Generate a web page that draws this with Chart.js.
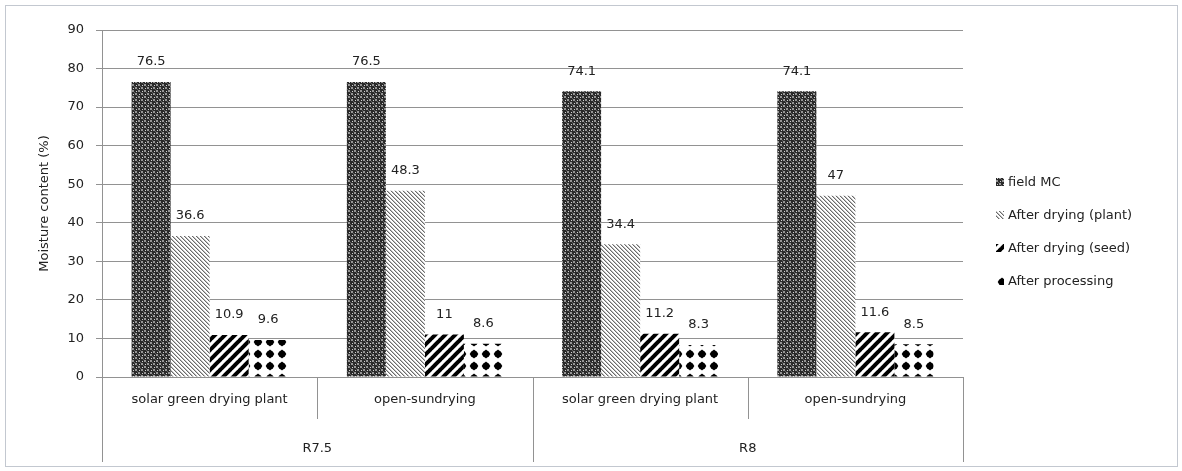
<!DOCTYPE html>
<html>
<head>
<meta charset="utf-8">
<script src="https://cdn.jsdelivr.net/npm/chart.js@4"></script>
<style>
  html, body { margin: 0; padding: 0; background: #fff; }
  #wrap { width: 1182px; height: 471px; }
</style>
</head>
<body>
<div id="wrap"><canvas id="mcChart" width="1182" height="471"></canvas></div>
<script>
// Moisture content by drying method, for two varieties
const categories = ['solar green drying plant', 'open-sundrying', 'solar green drying plant', 'open-sundrying'];
const groups = ['R7.5', 'R8'];
const seriesNames = ['field MC', 'After drying (plant)', 'After drying (seed)', 'After processing'];
const fieldMC = [76.5, 76.5, 74.1, 74.1];
const afterPlant = [36.6, 48.3, 34.4, 47];
const afterSeed = [10.9, 11, 11.2, 11.6];
const afterProcessing = [9.6, 8.6, 8.3, 8.5];
const yTicks = [0, 10, 20, 30, 40, 50, 60, 70, 80, 90];

const FONT = 'DejaVu Sans';
const TEXT = '#222222';
const GRID = '#929292';

// --- fill patterns ---
function makeTile(w, h, draw) {
    const c = document.createElement('canvas');
    c.width = w; c.height = h;
    const g = c.getContext('2d');
    draw(g, w, h);
    return document.createElement('canvas').getContext('2d').createPattern(c, 'repeat');
}

// dark woven check
const patField = makeTile(6, 6, (g) => {
    g.fillStyle = '#2a2a2a';
    g.fillRect(0, 0, 6, 6);
    g.fillStyle = '#959595';
    g.fillRect(0, 0, 2, 2);
    g.fillRect(3, 3, 2, 2);
    g.fillStyle = '#d0d0d0';
    g.fillRect(1, 4, 1, 1);
    g.fillRect(4, 1, 1, 1);
    g.fillStyle = '#606060';
    g.fillRect(2, 2, 1, 1);
    g.fillRect(5, 5, 1, 1);
});

// thin light diagonal lines (\\\)
const patPlant = makeTile(4, 4, (g) => {
    g.fillStyle = '#ffffff';
    g.fillRect(0, 0, 4, 4);
    for (let i = 0; i < 4; i++) {
        g.fillStyle = '#6a6a6a';
        g.fillRect(i, i, 1, 1);
        g.fillStyle = '#c0c0c0';
        g.fillRect((i + 1) % 4, i, 1, 1);
    }
});

// thick black diagonal stripes (///)
const patSeed = makeTile(10, 10, (g) => {
    g.fillStyle = '#ffffff';
    g.fillRect(0, 0, 10, 10);
    g.strokeStyle = '#000000';
    g.lineWidth = 4;
    for (let k = -1; k <= 1; k++) {
        g.beginPath();
        g.moveTo(k * 10 - 1, 11);
        g.lineTo(k * 10 + 11, -1);
        g.stroke();
    }
});

// black round dots with small diamond points
const patProc = makeTile(12, 12, (g) => {
    g.fillStyle = '#ffffff';
    g.fillRect(0, 0, 12, 12);
    g.fillStyle = '#000000';
    g.beginPath();
    g.arc(6, 6, 3.6, 0, Math.PI * 2);
    g.fill();
    g.beginPath();
    g.moveTo(6, 1.4);
    g.lineTo(10.4, 6);
    g.lineTo(6, 10.6);
    g.lineTo(1.6, 6);
    g.closePath();
    g.fill();
});

const patterns = [patField, patPlant, patSeed, patProc];

// value labels, hierarchical x-axis, legend and frame
const decorPlugin = {
    id: 'decor',
    beforeDraw(chart) {
        const ctx = chart.ctx;
        ctx.save();
        ctx.strokeStyle = '#c3c8d0';
        ctx.lineWidth = 1;
        ctx.strokeRect(5.5, 5.5, 1172, 461);
        ctx.restore();
    },
    afterDraw(chart) {
        const ctx = chart.ctx;
        const area = chart.chartArea;
        ctx.save();

        // bar value labels
        ctx.font = '13px "' + FONT + '"';
        ctx.fillStyle = TEXT;
        ctx.textAlign = 'center';
        ctx.textBaseline = 'middle';
        chart.data.datasets.forEach((ds, di) => {
            chart.getDatasetMeta(di).data.forEach((bar, i) => {
                ctx.fillText(String(ds.data[i]), bar.x, bar.y - 20);
            });
        });

        // category separators
        const step = (area.right - area.left) / categories.length;
        ctx.strokeStyle = GRID;
        ctx.lineWidth = 1;
        for (let i = 0; i <= categories.length; i++) {
            const px = Math.round(area.left + i * step) + 0.5;
            const outer = i % 2 === 0;
            ctx.beginPath();
            ctx.moveTo(px, area.bottom);
            ctx.lineTo(px, outer ? 462 : 419);
            ctx.stroke();
        }

        // group labels
        groups.forEach((g, gi) => {
            const cx = area.left + step * (gi * 2 + 1);
            ctx.fillText(g, cx, 449);
        });

        // legend
        ctx.textAlign = 'left';
        seriesNames.forEach((name, i) => {
            const ly = 182 + i * 33;
            ctx.fillStyle = patterns[i];
            ctx.fillRect(996, ly - 4, 8, 8);
            ctx.fillStyle = TEXT;
            ctx.fillText(name, 1008, ly + 1);
        });
        ctx.restore();
    }
};

const seriesData = [fieldMC, afterPlant, afterSeed, afterProcessing];

new Chart(document.getElementById('mcChart'), {
    type: 'bar',
    data: {
        labels: categories,
        datasets: seriesNames.map((name, i) => ({
            label: name,
            data: seriesData[i],
            backgroundColor: patterns[i],
            borderWidth: 0,
            categoryPercentage: 0.725,
            barPercentage: 1.0
        }))
    },
    options: {
        responsive: false,
        animation: false,
        events: [],
        layout: { padding: { left: 0, right: 219, top: 30, bottom: 0 } },
        plugins: {
            legend: { display: false },
            tooltip: { enabled: false }
        },
        scales: {
            x: {
                grid: { display: false, drawTicks: false },
                border: { display: true, color: GRID },
                ticks: {
                    color: TEXT,
                    font: { family: FONT, size: 13 },
                    padding: 15,
                    maxRotation: 0,
                    autoSkip: false
                },
                afterFit(scale) { scale.height = 94; }
            },
            y: {
                min: 0,
                max: 90,
                afterBuildTicks(scale) { scale.ticks = yTicks.map(v => ({ value: v })); },
                grid: { color: GRID, lineWidth: 1, tickLength: 6, drawTicks: true },
                border: { display: true, color: GRID },
                ticks: {
                    color: TEXT,
                    font: { family: FONT, size: 13 },
                    padding: 12
                },
                title: {
                    display: true,
                    text: 'Moisture content (%)',
                    color: TEXT,
                    font: { family: FONT, size: 13 },
                    padding: { top: 37, bottom: 0 }
                },
                afterFit(scale) { scale.width = 102; }
            }
        }
    },
    plugins: [decorPlugin]
});
</script>
</body>
</html>
